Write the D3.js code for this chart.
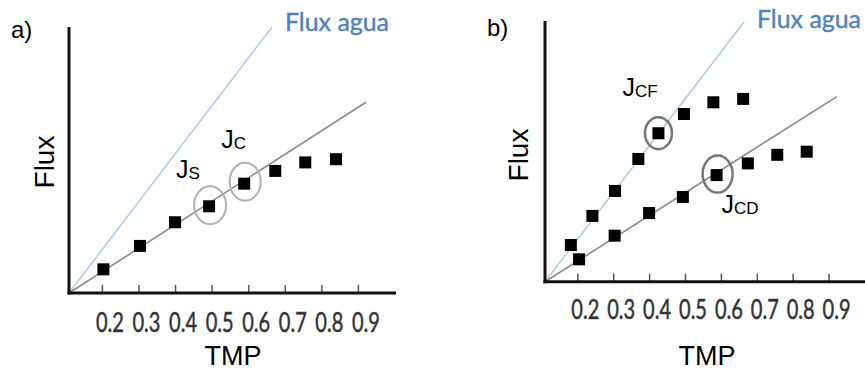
<!DOCTYPE html>
<html>
<head>
<meta charset="utf-8">
<script src="https://cdn.jsdelivr.net/npm/d3@7"></script>
<style>
  html, body { margin: 0; padding: 0; background: #fff; }
  svg { display: block; }
</style>
</head>
<body>
<svg id="chart" width="865" height="371"></svg>
<script>
// ---- data ----
const tickValues = [0.2, 0.3, 0.4, 0.5, 0.6, 0.7, 0.8, 0.9];
const tickLabels = ["0.2", "0.3", "0.4", "0.5", "0.6", "0.7", "0.8", "0.9"];

// panel a
const aTMP  = [0.204, 0.304, 0.400, 0.493, 0.589, 0.674, 0.756, 0.840];
const aFlux = [0.89, 1.77, 2.66, 3.26, 4.11, 4.59, 4.91, 5.03];
const aWaterLine = [[0.11, 0], [0.665, 10]];
const aFitLine   = [[0.11, 0], [0.922, 7.17]];

// panel b
const bTMPcf  = [0.182, 0.242, 0.305, 0.370, 0.426, 0.497, 0.579, 0.662];
const bFluxcf = [1.41, 2.53, 3.49, 4.72, 5.71, 6.45, 6.90, 7.03];
const bTMPcd  = [0.205, 0.304, 0.400, 0.494, 0.588, 0.675, 0.757, 0.839];
const bFluxcd = [0.86, 1.77, 2.64, 3.26, 4.10, 4.55, 4.88, 5.00];
const bWaterLine = [[0.11, 0], [0.665, 10]];
const bFitLine   = [[0.11, 0], [0.923, 7.12]];

const svg = d3.select("#chart");
const HUMAN = "Lato, 'Open Sans', sans-serif";
const ARIAL = "'Liberation Sans', Arial, sans-serif";

function panel(cfg) {
  const g = svg.append("g");
  const x = d3.scaleLinear().domain([0.11, 1.0]).range([cfg.x0, cfg.x1]);
  const y = d3.scaleLinear().domain([0, 10]).range([cfg.y0, cfg.yTop]);

  // reference lines
  const line = d3.line().x(d => x(d[0])).y(d => y(d[1]));
  g.append("path").attr("d", line(cfg.water))
    .attr("fill", "none").attr("stroke", "#a9cbe9").attr("stroke-width", 1.5);
  g.append("path").attr("d", line(cfg.fit))
    .attr("fill", "none").attr("stroke", "#8a8a8a").attr("stroke-width", 1.6);

  // x axis with ticks pointing up
  const xAxis = d3.axisTop(x).tickValues(tickValues).tickSize(8).tickFormat("");
  const ax = g.append("g").attr("transform", `translate(0,${cfg.y0})`).call(xAxis);
  ax.select(".domain").remove();
  ax.selectAll(".tick line").attr("stroke", "#555").attr("stroke-width", 1.5);

  // tick labels
  g.append("g").selectAll("text").data(tickValues).join("text")
    .attr("x", d => x(d) + 8)
    .attr("y", cfg.y0 + cfg.labelDy)
    .attr("text-anchor", "middle")
    .attr("font-family", HUMAN)
    .attr("font-size", 27)
    .attr("fill", "#333")
    .attr("stroke", "#333").attr("stroke-width", 0.5)
    .attr("textLength", 28).attr("lengthAdjust", "spacingAndGlyphs")
    .text((d, i) => tickLabels[i]);

  // axes lines
  g.append("line").attr("x1", cfg.x0).attr("x2", cfg.x0)
    .attr("y1", cfg.axisTop).attr("y2", cfg.y0 + 1.5)
    .attr("stroke", "#111").attr("stroke-width", 3);
  g.append("line").attr("x1", cfg.x0 - 1.5).attr("x2", cfg.axisRight)
    .attr("y1", cfg.y0).attr("y2", cfg.y0)
    .attr("stroke", "#111").attr("stroke-width", 3);

  // points
  cfg.series.forEach(s => {
    g.append("g").selectAll("rect").data(s.xs).join("rect")
      .attr("x", (d, i) => x(d) - 6)
      .attr("y", (d, i) => y(s.ys[i]) - 6)
      .attr("width", 12).attr("height", 12)
      .attr("fill", "#000");
  });

  // highlight ellipses + labels
  cfg.marks.forEach(m => {
    const cx = x(m.xv), cy = y(m.yv);
    g.append("ellipse").attr("cx", cx + m.ox).attr("cy", cy + m.oy)
      .attr("rx", m.rx).attr("ry", m.ry)
      .attr("fill", "none").attr("stroke", m.color).attr("stroke-width", m.sw);
    const t = g.append("text")
      .attr("x", cx + m.lx).attr("y", cy + m.ly)
      .attr("font-family", ARIAL).attr("fill", "#000");
    t.append("tspan").attr("font-size", 25).text("J");
    t.append("tspan").attr("font-size", 17).attr("dy", 1).text(m.sub);
  });

  // axis titles
  g.append("text")
    .attr("transform", `translate(${cfg.fluxX},${cfg.fluxY}) rotate(-90)`)
    .attr("text-anchor", "middle")
    .attr("font-family", ARIAL).attr("font-size", 28).attr("fill", "#000")
    .text("Flux");
  g.append("text")
    .attr("x", cfg.tmpX).attr("y", cfg.tmpY)
    .attr("text-anchor", "middle")
    .attr("font-family", ARIAL).attr("font-size", 27).attr("fill", "#000")
    .text("TMP");

  // panel letter
  g.append("text").attr("x", cfg.letterX).attr("y", cfg.letterY)
    .attr("font-family", ARIAL).attr("font-size", 24).attr("fill", "#000")
    .text(cfg.letter);

  // water flux label
  g.append("text").attr("x", cfg.aguaX).attr("y", cfg.aguaY)
    .attr("font-family", HUMAN).attr("font-size", 25).attr("fill", "#5181bd")
    .attr("stroke", "#5181bd").attr("stroke-width", 0.4)
    .attr("textLength", 104).attr("lengthAdjust", "spacingAndGlyphs")
    .text("Flux agua");
}

panel({
  x0: 69, x1: 394.5, y0: 293, yTop: 27, axisTop: 27, axisRight: 396, labelDy: 39,
  water: aWaterLine, fit: aFitLine,
  series: [{ xs: aTMP, ys: aFlux }],
  marks: [
    { xv: aTMP[3], yv: aFlux[3], ox: 1, oy: -1, rx: 16, ry: 19, color: "#b0b0b0", sw: 2, lx: -33, ly: -28, sub: "S" },
    { xv: aTMP[4], yv: aFlux[4], ox: 1, oy: -2, rx: 15.5, ry: 19, color: "#b0b0b0", sw: 2, lx: -23, ly: -36, sub: "C" }
  ],
  fluxX: 54, fluxY: 162, tmpX: 233, tmpY: 365,
  letter: "a)", letterX: 11, letterY: 38,
  aguaX: 285, aguaY: 31
});

panel({
  x0: 545, x1: 864.5, y0: 281.7, yTop: 21.7, axisTop: 21, axisRight: 866, labelDy: 37,
  water: bWaterLine, fit: bFitLine,
  series: [{ xs: bTMPcf, ys: bFluxcf }, { xs: bTMPcd, ys: bFluxcd }],
  marks: [
    { xv: bTMPcf[4], yv: bFluxcf[4], ox: 0, oy: 0, rx: 13.5, ry: 16, color: "#777", sw: 2.5, lx: -36, ly: -37, sub: "CF" },
    { xv: bTMPcd[4], yv: bFluxcd[4], ox: 1, oy: -1, rx: 15, ry: 18.5, color: "#777", sw: 2.5, lx: 5, ly: 38, sub: "CD" }
  ],
  fluxX: 528, fluxY: 155, tmpX: 707, tmpY: 365,
  letter: "b)", letterX: 487, letterY: 36,
  aguaX: 757, aguaY: 28
});
</script>
</body>
</html>
